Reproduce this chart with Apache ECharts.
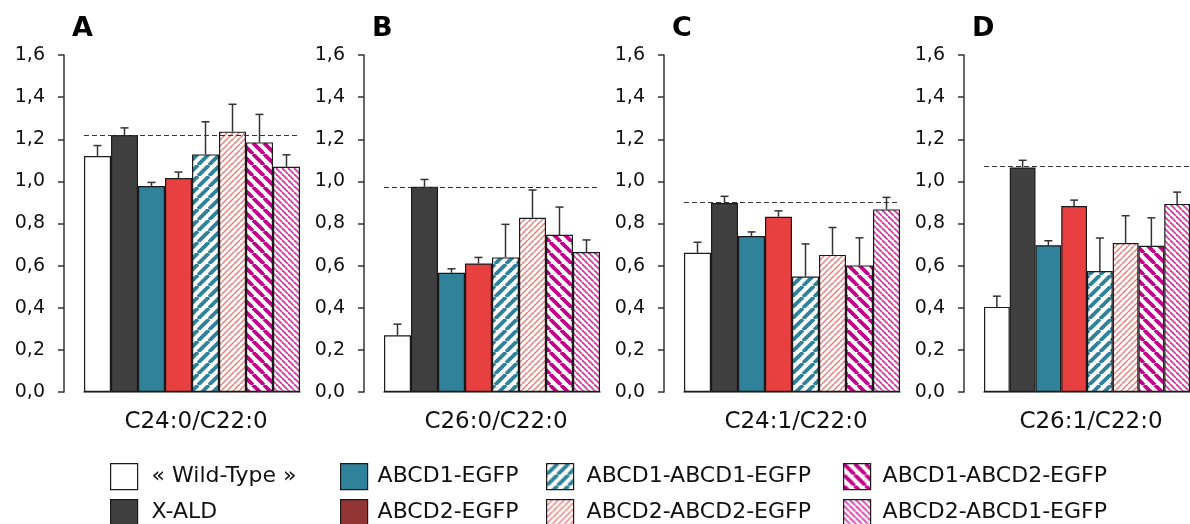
<!DOCTYPE html>
<html>
<head>
<meta charset="utf-8">
<script src="https://cdn.jsdelivr.net/npm/echarts@6/dist/echarts.min.js"></script>
<style>
html,body{margin:0;padding:0;background:#fff;}
#chart{width:1190px;height:524px;}
</style>
</head>
<body>
<div id="chart"></div>
<script>
// ---- data ----
const groups = ['« Wild-Type »','X-ALD','ABCD1-EGFP','ABCD2-EGFP','ABCD1-ABCD1-EGFP','ABCD2-ABCD2-EGFP','ABCD1-ABCD2-EGFP','ABCD2-ABCD1-EGFP'];
const panelLetters = ['A','B','C','D'];
const ratios = ['C24:0/C22:0','C26:0/C22:0','C24:1/C22:0','C26:1/C22:0'];
const valuesA = [1.12, 1.22, 0.978, 1.016, 1.128, 1.236, 1.185, 1.069];
const errA    = [0.05, 0.034, 0.017, 0.028, 0.155, 0.13, 0.133, 0.057];
const valuesB = [0.269, 0.974, 0.566, 0.61, 0.639, 0.827, 0.746, 0.665];
const errB    = [0.053, 0.035, 0.019, 0.029, 0.157, 0.132, 0.132, 0.057];
const valuesC = [0.661, 0.897, 0.741, 0.832, 0.548, 0.651, 0.601, 0.867];
const errC    = [0.05, 0.032, 0.019, 0.028, 0.155, 0.13, 0.131, 0.057];
const valuesD = [0.404, 1.066, 0.697, 0.883, 0.574, 0.707, 0.694, 0.893];
const errD    = [0.051, 0.034, 0.021, 0.028, 0.157, 0.13, 0.133, 0.056];

const panelValues = [valuesA, valuesB, valuesC, valuesD];
const panelErrors = [errA, errB, errC, errD];

// ---- styles ----
function stripes(color, period, width, dir) {
  const c = document.createElement('canvas');
  c.width = period; c.height = period;
  const ctx = c.getContext('2d');
  ctx.fillStyle = '#ffffff';
  ctx.fillRect(0, 0, period, period);
  ctx.strokeStyle = color;
  ctx.lineWidth = width;
  for (let k = -1; k <= 1; k++) {
    ctx.beginPath();
    if (dir === '/') {
      ctx.moveTo(k * period, period);
      ctx.lineTo(k * period + period, 0);
    } else {
      ctx.moveTo(k * period, 0);
      ctx.lineTo(k * period + period, period);
    }
    ctx.stroke();
  }
  return { image: c, repeat: 'repeat' };
}
const fills = [
  '#ffffff',
  '#404040',
  '#2f8299',
  '#e84040',
  stripes('#2f8299', 11, 3.8, '/'),
  stripes('#f07a7a', 6, 1.5, '/'),
  stripes('#c4008a', 11, 3.8, '\\'),
  stripes('#d03aaa', 6, 1.8, '\\')
];
const legendFills = fills.slice();
legendFills[3] = '#933535';

const gridLefts = [84, 384, 684, 984];
const barW = 27;
const font = 'DejaVu Sans, Verdana, sans-serif';

const grids = [], xAxes = [], yAxes = [], series = [], titles = [];
panelValues.forEach((vals, p) => {
  grids.push({ left: gridLefts[p], top: 55, width: barW * groups.length, height: 337 });
  titles.push({ text: panelLetters[p], left: gridLefts[p] - 17, top: 10,
    textStyle: { fontFamily: font, fontSize: 27, fontWeight: 'bold', color: '#000' } });
  xAxes.push({
    type: 'category', gridIndex: p, data: groups,
    axisTick: { show: false }, axisLabel: { show: false },
    axisLine: { lineStyle: { color: '#555', width: 1.5 } },
    name: ratios[p], nameLocation: 'middle', nameGap: 19,
    nameTextStyle: { fontFamily: font, fontSize: 23, color: '#111', padding: [0, 0, 0, 8] }
  });
  yAxes.push({
    type: 'value', gridIndex: p, min: 0, max: 1.6, interval: 0.2, offset: 20,
    splitLine: { show: false },
    axisLine: { show: true, lineStyle: { color: '#333', width: 1.5 } },
    axisTick: { show: true, length: 6, lineStyle: { color: '#333', width: 1.5 } },
    axisLabel: { margin: 19, fontFamily: font, fontSize: 19, color: '#111',
      formatter: v => v.toFixed(1).replace('.', ',') }
  });
  groups.forEach((g, i) => {
    const data = groups.map((_, j) => j === i ? vals[i] : '-');
    const s = {
      name: g, type: 'bar', xAxisIndex: p, yAxisIndex: p, stack: 'panel' + p,
      barCategoryGap: '0%', barGap: '0%', data: data,
      itemStyle: { color: fills[i], borderColor: '#1a1a1a', borderWidth: 1.2 },
      emphasis: { disabled: true }, animation: false
    };
    if (i === 1) {
      s.markLine = {
        silent: true, symbol: 'none', label: { show: false },
        lineStyle: { type: [5, 3], color: '#333', width: 1 },
        data: [{ yAxis: vals[1] }], animation: false
      };
    }
    series.push(s);
  });
  series.push({
    type: 'custom', xAxisIndex: p, yAxisIndex: p, z: 5, animation: false,
    data: vals.map((v, i) => [i, v, panelErrors[p][i]]),
    encode: { x: 0, y: 1 },
    renderItem: (params, api) => {
      const x = api.value(0), v = api.value(1), e = api.value(2);
      const a = api.coord([x, v]);
      const b = api.coord([x, v + e]);
      const st = { stroke: '#333', lineWidth: 1.5 };
      return { type: 'group', children: [
        { type: 'line', shape: { x1: a[0], y1: a[1], x2: b[0], y2: b[1] }, style: st },
        { type: 'line', shape: { x1: b[0] - 4, y1: b[1], x2: b[0] + 4, y2: b[1] }, style: st }
      ]};
    }
  });
});

// legend: 4 columns x 2 rows, one legend component per entry
const legendLefts = [110, 340, 546, 843];
const legendTops = [463, 499];
const legendPads = [9, 5, 8, 7];
const legends = groups.map((g, i) => {
  const col = Math.floor(i / 2), row = i % 2;
  return {
    orient: 'horizontal', left: legendLefts[col], top: legendTops[row],
    itemWidth: 27, itemHeight: 26,
    icon: 'rect', selectedMode: false, padding: 0,
    textStyle: { fontFamily: font, fontSize: 22, color: '#111', padding: [0, 0, 0, legendPads[col]] },
    data: [{ name: g, itemStyle: { color: legendFills[i], borderColor: '#1a1a1a', borderWidth: 1.2 } }]
  };
});

const chart = echarts.init(document.getElementById('chart'), null, { renderer: 'canvas' });
chart.setOption({
  animation: false,
  title: titles,
  grid: grids, xAxis: xAxes, yAxis: yAxes,
  legend: legends,
  series: series
});
</script>
</body>
</html>
